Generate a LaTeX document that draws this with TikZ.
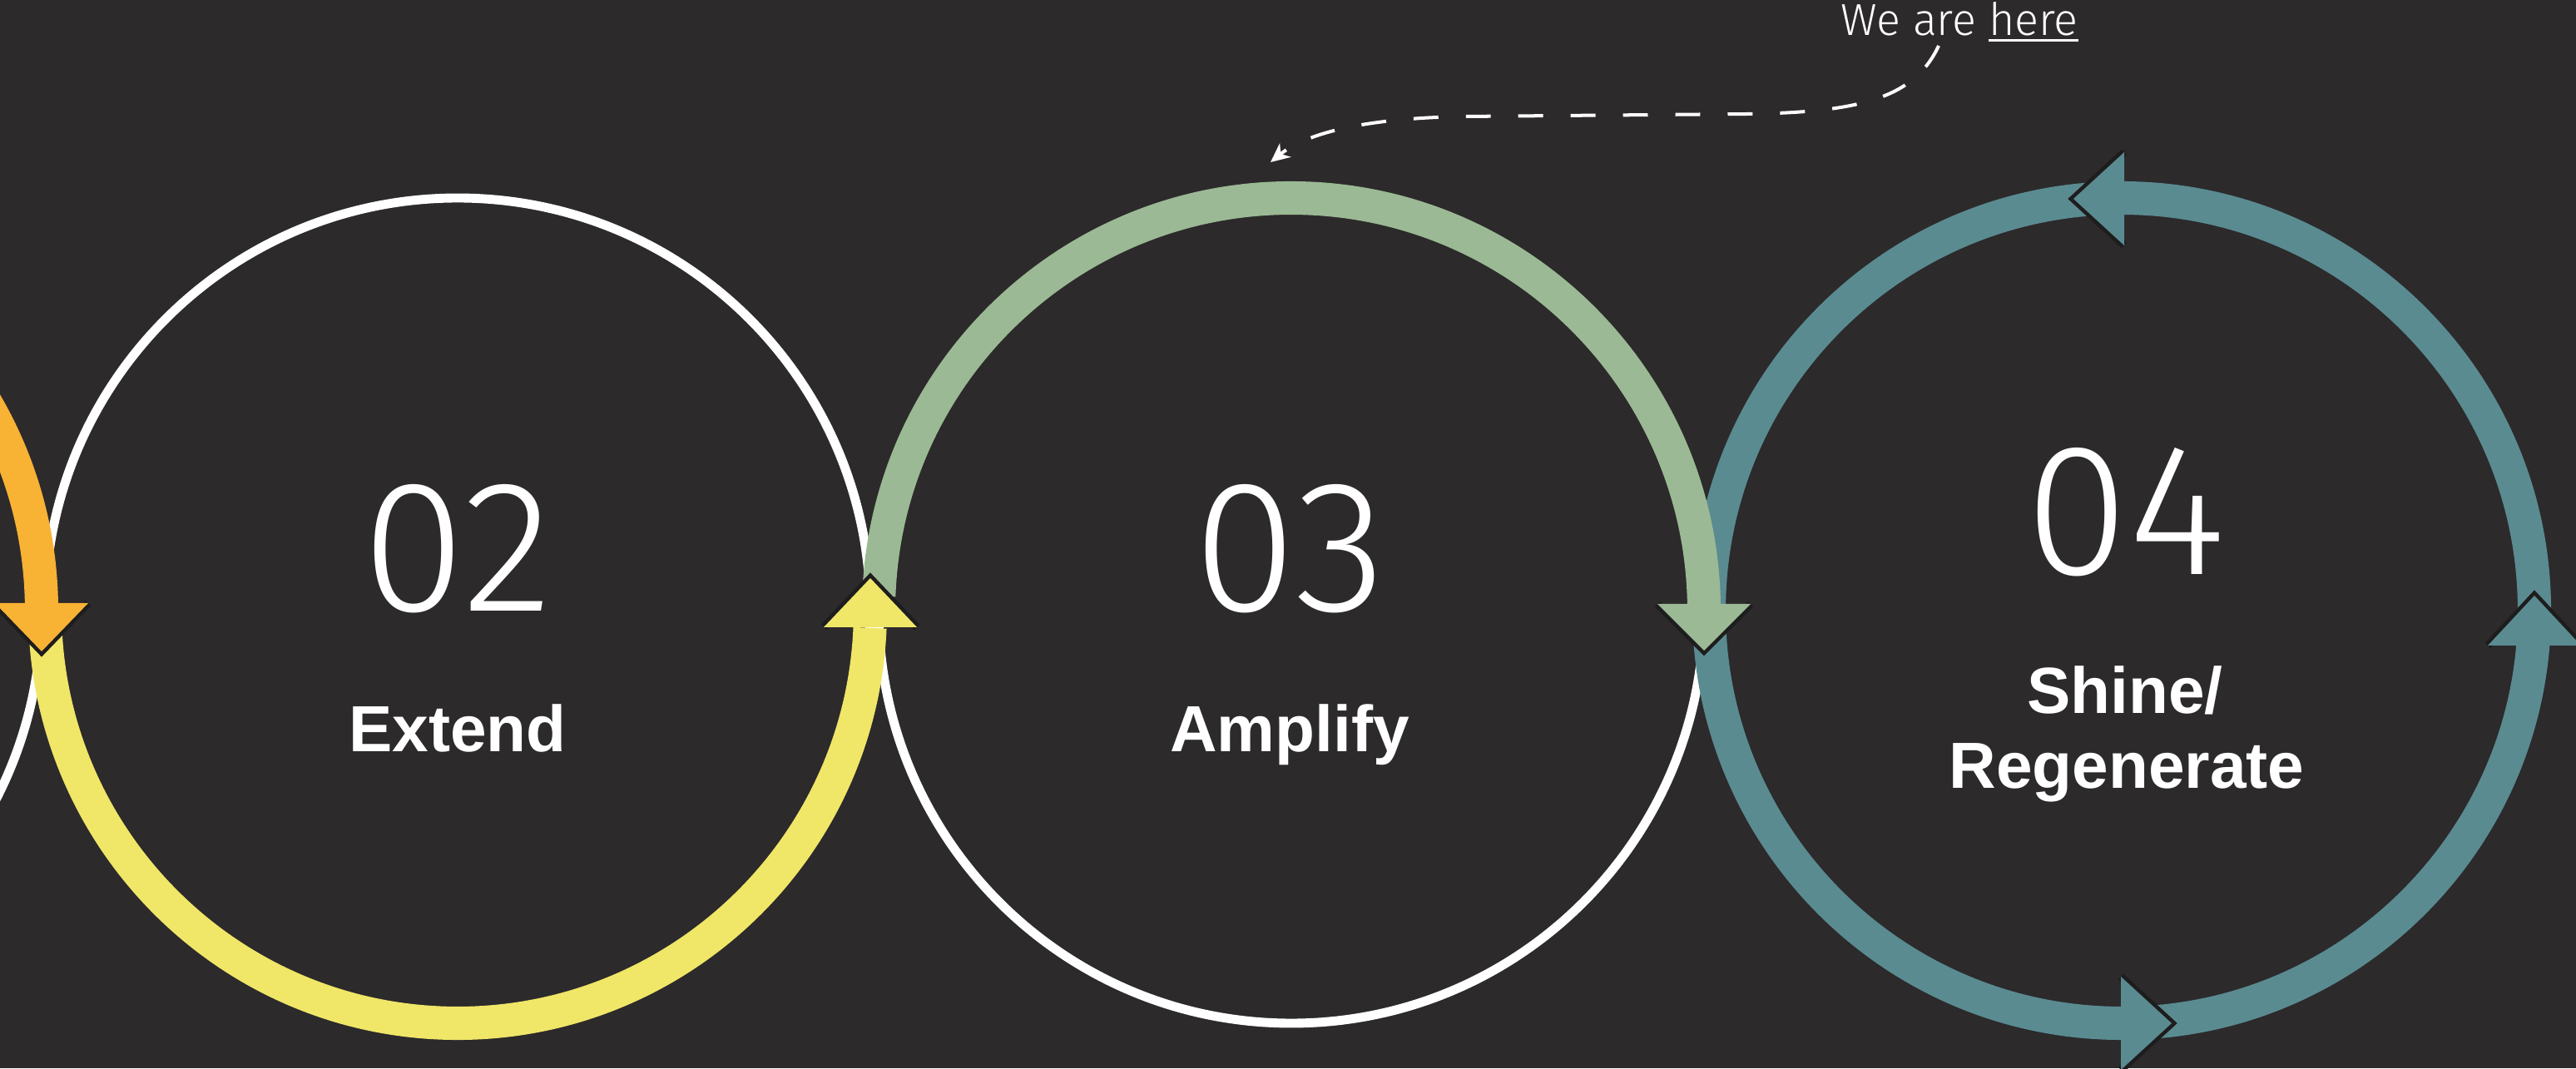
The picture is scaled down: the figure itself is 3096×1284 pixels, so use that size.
\documentclass[tikz,border=0pt]{standalone}
\usepackage{fontspec}
\setmainfont{Liberation Sans}
\newfontfamily\lightfont{Fira Sans Light}
\usetikzlibrary{arrows.meta,calc}
\definecolor{bgc}{RGB}{44,42,43}
\definecolor{orangec}{RGB}{248,178,52}
\definecolor{yellowc}{RGB}{240,230,104}
\definecolor{greenc}{RGB}{155,185,148}
\definecolor{tealc}{RGB}{90,139,145}
\definecolor{shadowc}{RGB}{30,29,30}
\newcommand\myul[1]{\setbox0=\hbox{#1}\rlap{\rule[-1.9pt]{\wd0}{0.85pt}}\box0}
\newcommand\myhead[4]{%
  \draw[headshadow] (#3) -- (#2) -- (#4);
  \fill[#1] (#3) -- (#2) -- (#4) -- cycle;}
\tikzset{
  ring/.style={draw=white, line width=3.1pt},
  band/.style={line width=11.4pt},
  headshadow/.style={draw=shadowc, line width=2.6pt, line join=miter},
  digit/.style={text=white, font=\lightfont\fontsize{64}{64}\selectfont, anchor=base, inner sep=0pt},
  lbl/.style={text=white, font=\bfseries\fontsize{22.3}{24}\selectfont, anchor=base, inner sep=0pt},
}
\begin{document}
\begin{tikzpicture}[x=0.01cm,y=0.01cm]
\useasboundingbox (0,0) rectangle (3096,1284);
\fill[bgc] (0,0) rectangle (3096,1284);
\begin{scope}
\clip (0,0) rectangle (3096,1284);
% centres
\coordinate (c1) at (-446,550);
\coordinate (c2) at (550,550);
\coordinate (c3) at (1552,550);
\coordinate (c4) at (2550,550);
% white circles
\draw[ring] (c1) circle[radius=496];
\draw[ring] (c2) circle[radius=496];
\draw[ring] (c3) circle[radius=496];
% coloured bands
\draw[band, tealc] (c4) circle[radius=496];
\draw[band, greenc] ($(c3)+(178:496)$) arc[start angle=178, end angle=0.9, radius=496];
\draw[band, yellowc] ($(c2)+(180:496)$) arc[start angle=180, end angle=357.6, radius=496];
\draw[band, orangec] ($(c1)+(180:496)$) arc[start angle=180, end angle=1, radius=496];
% arrow heads
\myhead{tealc}{2492,1045}{2553,1101}{2553,989}
\myhead{tealc}{3046,568}{2990,508}{3102,508}
\myhead{tealc}{2610,54}{2549,110}{2549,-2}
\myhead{greenc}{2048,502}{1992,558}{2104,558}
\myhead{yellowc}{1046,589}{990,530}{1102,530}
\myhead{orangec}{50,501}{-6,559}{106,559}
\end{scope}
% texts
\node[digit] (n02) at (550,550) {02};
\node[lbl] (t02) at (550,381) {Extend};
\node[digit] (n03) at (1550,550) {03};
\node[lbl] (t03) at (1550,381) {Amplify};
\node[digit] (n04) at (2555,593) {04};
\node[lbl] (t04a) at (2554,427) {Shine/};
\node[lbl] (t04b) at (2556,337) {Regenerate};
\node[anchor=base, text=white, font=\lightfont\fontsize{15.3}{16}\selectfont, inner sep=0pt] (weare) at (2355,1241) {We are \myul{here}};
% dashed pointer
\coordinate (ds) at (2330,1229);
\coordinate (dm1) at (2100,1147);
\coordinate (dm2) at (1760,1144);
\coordinate (de) at (1527,1089);
\draw[white, line width=1.14pt, dash pattern=on 8.5pt off 9.4pt, -{Stealth[length=6.5pt,width=6pt,inset=2pt]}]
  (ds) .. controls (2300,1164) and (2230,1149) .. (dm1) -- (dm2)
  .. controls (1640,1142) and (1570,1124) .. (de);
\end{tikzpicture}
\end{document}
